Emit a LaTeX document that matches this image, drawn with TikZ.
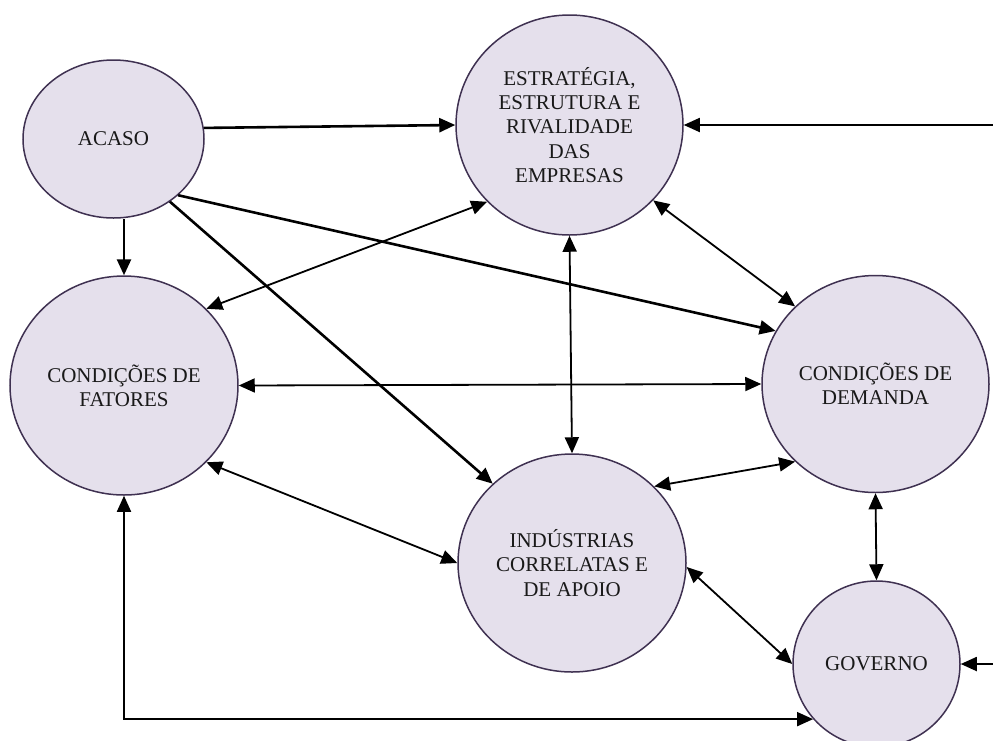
\documentclass[tikz,border=0pt]{standalone}
\usepackage{fontspec}
\setmainfont{Liberation Serif}
\usetikzlibrary{shapes.geometric,arrows.meta}

\definecolor{bubblefill}{HTML}{E5E0EC}
\definecolor{bubbleline}{HTML}{3F3151}

\tikzset{
  bubble/.style={ellipse, draw=bubbleline, fill=bubblefill, line width=1.5pt,
    inner sep=0pt, align=center, text=black!90,
    font=\fontsize{21}{24.3}\selectfont},
  tip/.style={-{Triangle[length=16pt,width=14pt]}},
  twotip/.style={{Triangle[length=16pt,width=14pt]}-{Triangle[length=16pt,width=14pt]}},
  heavy/.style={line width=2.6pt},
  light/.style={line width=1.8pt},
}

\begin{document}
\begin{tikzpicture}[x=1pt,y=-1pt]
\useasboundingbox (0,0) rectangle (993,740);

% forces of the diamond
\node[bubble, minimum width=181pt, minimum height=158pt] (acaso) at (113.5,139) {ACASO};
\node[bubble, minimum width=227pt, minimum height=220pt] (est) at (569.5,125)
  {ESTRATÉGIA,\\ESTRUTURA E\\RIVALIDADE\\DAS\\EMPRESAS};
\node[bubble, minimum width=228pt, minimum height=219pt] (fat) at (124,385.5)
  {CONDIÇÕES DE\\FATORES};
\node[bubble, minimum width=227pt, minimum height=217pt] (dem) at (875.5,384)
  {CONDIÇÕES DE\\DEMANDA};
\node[bubble, minimum width=228pt, minimum height=218pt] (ind) at (572,563)
  {INDÚSTRIAS\\CORRELATAS E\\DE APOIO};
\node[bubble, minimum width=167pt, minimum height=166pt] (gov) at (876.5,664) {GOVERNO};

% loose ends entering from the right margin
\coordinate (inEst) at (993,125);
\coordinate (inGov) at (993,664);

% influence of chance
\draw[heavy,tip] (acaso.7.5) -- (est.west);
\draw[heavy,tip] (fat.north |- acaso.south) -- (fat.north);
\draw[heavy,tip] (acaso.-48) -- (ind.135.7);
\draw[heavy,tip] (acaso.-41) -- (dem.152.8);

% mutual links
\draw[light,twotip] (fat.43.7) -- (est.-137.1);
\draw[light,twotip] (est.south) -- (ind.north);
\draw[light,twotip] (est.-42.3) -- (dem.136.6);
\draw[light,twotip] (fat.east) -- (dem.west);
\draw[light,twotip] (fat.-43.7) -- (ind.west);
\draw[light,twotip] (ind.43.2) -- (dem.-136.3);
\draw[light,twotip] (dem.south) -- (gov.north);
\draw[light,twotip] (ind.-2) -- (gov.west);
\draw[light,twotip] (gov.-139.4) -- (fat.south |- gov.-139.4) -- (fat.south);

% external inputs
\draw[light,tip] (inEst) -- (est.east);
\draw[light,tip] (inGov) -- (gov.east);
\end{tikzpicture}
\end{document}
